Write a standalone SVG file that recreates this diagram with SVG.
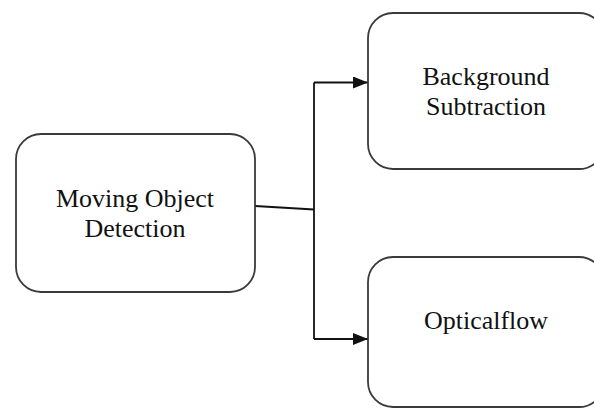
<svg xmlns="http://www.w3.org/2000/svg" width="594" height="409" viewBox="0 0 594 409">
  <style>
    .box { fill: #ffffff; stroke: #3a3a3a; stroke-width: 1.8; }
    .label { font-family: "Liberation Serif", "Times New Roman", serif; font-size: 26px; fill: #111111; text-anchor: middle; }
    .wire { fill: none; stroke: #111111; stroke-width: 1.8; }
  </style>
  <defs>
    <marker id="arrow" viewBox="0 0 15 12" refX="15" refY="6" markerWidth="15" markerHeight="12" markerUnits="userSpaceOnUse" orient="auto">
      <path d="M0,0 L15,6 L0,12 Z" fill="#111111"/>
    </marker>
  </defs>
  <rect x="0" y="0" width="594" height="409" fill="#ffffff"/>

  <g id="connectors">
    <path class="wire" d="M255,206 L314,209.5"/>
    <path class="wire" d="M314,82.5 L314,339"/>
    <path class="wire" d="M314,82.5 L368,82.5" marker-end="url(#arrow)"/>
    <path class="wire" d="M314,339 L368,339" marker-end="url(#arrow)"/>
  </g>

  <g id="moving-object-detection">
    <rect class="box" x="16" y="134" width="239" height="158" rx="25" ry="25"/>
    <text class="label" x="135" y="207">Moving Object</text>
    <text class="label" x="135" y="237">Detection</text>
  </g>

  <g id="background-subtraction">
    <rect class="box" x="368" y="13" width="236" height="156" rx="25" ry="25"/>
    <text class="label" x="486" y="85">Background</text>
    <text class="label" x="486" y="115">Subtraction</text>
  </g>

  <g id="opticalflow">
    <rect class="box" x="368" y="257" width="236" height="150" rx="25" ry="25"/>
    <text class="label" x="486" y="329">Opticalflow</text>
  </g>
</svg>
